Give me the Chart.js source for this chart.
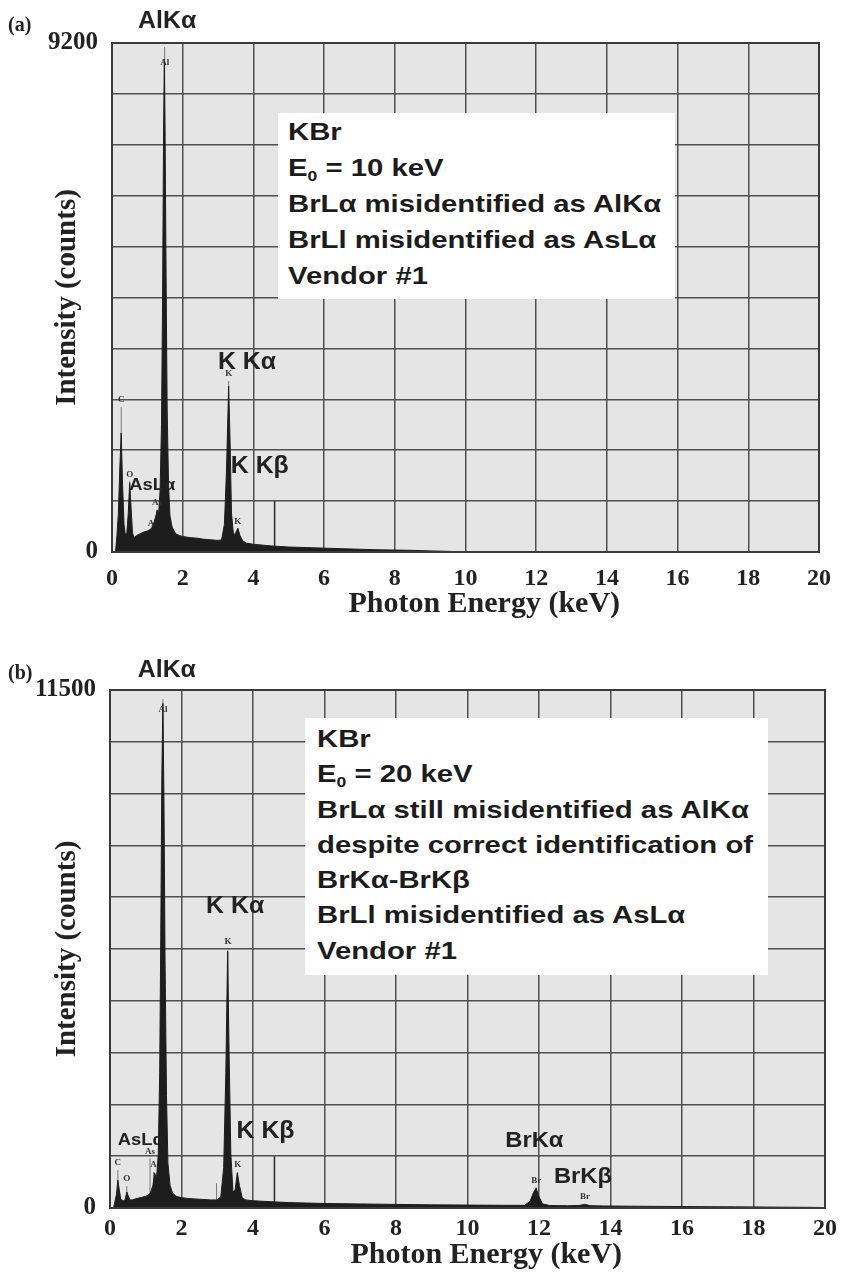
<!DOCTYPE html>
<html><head><meta charset="utf-8">
<script src="https://cdn.jsdelivr.net/npm/chart.js@4.4.1/dist/chart.umd.min.js"></script>
<style>
html,body{margin:0;padding:0;background:#fff;}
body{width:843px;height:1274px;position:relative;overflow:hidden;}
canvas{position:absolute;left:0;}
.tag{position:absolute;left:8px;font:bold 20px 'Liberation Serif',serif;color:#222;line-height:20px;}
.box{position:absolute;background:#fff;box-sizing:border-box;overflow:hidden;}
.box .in{position:absolute;left:10px;top:1px;font:bold 24px/36px 'Liberation Sans',Arial,sans-serif;color:#1c1c1c;white-space:nowrap;transform:scaleX(1.22);transform-origin:0 0;}
.box sub{font-size:60%;vertical-align:-5px;line-height:0;}
</style></head><body>
<canvas id="ca" width="843" height="625" style="top:0"></canvas>
<canvas id="cb" width="843" height="639" style="top:635px"></canvas>
<div class="tag" style="top:14px">(a)</div>
<div class="tag" style="top:662px">(b)</div>
<div class="box" style="left:278px;top:113px;width:397px;height:186px"><div class="in">KBr<br>E<sub>0</sub> = 10 keV<br>BrLα misidentified as AlKα<br>BrLl misidentified as AsLα<br>Vendor #1</div></div>
<div class="box" style="left:305px;top:718px;width:463px;height:257px"><div class="in" style="line-height:35.3px;top:3px;left:12px">KBr<br>E<sub>0</sub> = 20 keV<br>BrLα still misidentified as AlKα<br>despite correct identification of<br>BrKα-BrKβ<br>BrLl misidentified as AsLα<br>Vendor #1</div></div>
<script>
// ---------- data ----------
const xTickValues = [0, 2, 4, 6, 8, 10, 12, 14, 16, 18, 20];
const yTickLabelsA = [0, 9200];
const yTickLabelsB = [0, 11500];

// Panel (a) spectrum, E0 = 10 keV
const energyA = [0, 0.10, 0.14, 0.18, 0.22, 0.26, 0.30, 0.34, 0.38, 0.42, 0.46, 0.50, 0.54, 0.58, 0.62, 0.70, 0.80, 0.90, 1.00, 1.06, 1.12, 1.18, 1.24, 1.28, 1.32, 1.36, 1.40, 1.43, 1.46, 1.48, 1.50, 1.53, 1.56, 1.60, 1.64, 1.70, 1.80, 1.90, 2.0, 2.2, 2.4, 2.6, 2.8, 3.0, 3.10, 3.18, 3.24, 3.30, 3.34, 3.38, 3.44, 3.50, 3.56, 3.62, 3.70, 3.8, 4.0, 4.5, 5.0, 5.5, 6.0, 6.5, 7.0, 7.5, 8.0, 8.5, 9.0, 9.5, 10.0, 20];
const countsA = [0, 0, 300, 700, 1500, 2150, 1200, 500, 300, 350, 700, 1250, 800, 350, 260, 300, 330, 360, 380, 400, 430, 520, 650, 760, 700, 1100, 2300, 4500, 7700, 8900, 7700, 5000, 2600, 1200, 650, 450, 330, 300, 280, 260, 250, 230, 220, 210, 220, 500, 1500, 3000, 2000, 700, 300, 350, 430, 300, 200, 160, 140, 110, 90, 80, 70, 60, 50, 40, 35, 30, 20, 12, 0, 0];
const markerEnergyA = [0.26, 0.50, 1.10, 1.27, 1.49, 3.30, 3.56];
const markerHeightA = [2620, 1280, 380, 760, 9125, 3090, 430];
const markerLabelA = ['C', 'O', 'A', 'As', 'Al', 'K', 'K'];
const cursorEnergyA = 4.60, cursorHeightA = 920;

// Panel (b) spectrum, E0 = 20 keV
const energyB = [0, 0.10, 0.14, 0.18, 0.22, 0.26, 0.30, 0.34, 0.38, 0.42, 0.47, 0.52, 0.56, 0.62, 0.70, 0.80, 0.90, 1.00, 1.08, 1.14, 1.20, 1.25, 1.30, 1.35, 1.39, 1.42, 1.45, 1.48, 1.51, 1.54, 1.58, 1.62, 1.68, 1.75, 1.85, 2.0, 2.2, 2.4, 2.6, 2.8, 3.0, 3.10, 3.18, 3.24, 3.29, 3.33, 3.38, 3.44, 3.50, 3.56, 3.62, 3.70, 3.8, 4.0, 4.5, 5.0, 5.5, 6.0, 7.0, 8.0, 9.0, 10.0, 11.0, 11.6, 11.75, 11.85, 11.92, 12.0, 12.1, 12.3, 12.8, 13.1, 13.28, 13.45, 13.8, 14.5, 15.5, 16.5, 17.5, 18.5, 19.5, 20];
const countsB = [0, 0, 150, 300, 620, 400, 200, 170, 160, 180, 355, 250, 180, 180, 200, 220, 240, 260, 290, 350, 500, 780, 650, 1200, 3000, 6000, 9600, 11200, 9000, 5500, 2500, 1000, 500, 330, 260, 230, 210, 200, 190, 180, 180, 250, 900, 3000, 5700, 3500, 1200, 350, 400, 780, 500, 220, 180, 160, 140, 120, 110, 100, 90, 80, 70, 65, 60, 60, 150, 350, 440, 250, 90, 55, 50, 55, 80, 50, 45, 40, 35, 30, 25, 20, 15, 10];
const markerEnergyB = [0.22, 0.47, 1.12, 1.22, 1.48, 2.98, 3.30, 3.57, 11.92, 13.29];
const markerHeightB = [840, 490, 1100, 800, 11300, 550, 5750, 800, 460, 90];
const markerLabelB = ['C', 'O', 'As', 'A', 'Al', '', 'K', 'K', 'Br', 'Br'];
const cursorEnergyB = 4.60, cursorHeightB = 1150;

// ---------- rendering ----------
const SERIF = "'Liberation Serif', 'Times New Roman', serif";
const SANS = "'Liberation Sans', Arial, sans-serif";

const decor = {
  id: 'decor',
  beforeDraw(chart) {
    const {ctx, chartArea: a} = chart;
    ctx.save();
    ctx.fillStyle = '#e5e5e5';
    ctx.fillRect(a.left, a.top, a.right - a.left, a.bottom - a.top);
    ctx.restore();
  },
  afterDraw(chart) {
    const o = chart.options.plugins.decor;
    const {ctx, chartArea: a} = chart;
    const xs = chart.scales.x, ys = chart.scales.y;
    ctx.save();
    ctx.strokeStyle = '#3a3a3a';
    ctx.lineWidth = 2;
    ctx.strokeRect(a.left, a.top, a.right - a.left, a.bottom - a.top);
    ctx.font = 'bold 9px ' + SERIF;
    ctx.fillStyle = '#333';
    ctx.textAlign = 'center';
    ctx.textBaseline = 'middle';
    o.mE.forEach((e, i) => {
      if (!o.mL[i]) return;
      let y = ys.getPixelForValue(o.mH[i]) - 7;
      y = Math.max(y, a.top + 20);
      ctx.fillText(o.mL[i], xs.getPixelForValue(e), y);
    });
    ctx.fillStyle = '#222';
    o.notes.forEach(n => {
      ctx.save();
      ctx.font = 'bold ' + n.size + 'px ' + SANS;
      ctx.translate(xs.getPixelForValue(n.e), ys.getPixelForValue(n.c));
      ctx.scale(1.08, 1);
      ctx.fillText(n.text, 0, 0);
      ctx.restore();
    });
    ctx.restore();
  }
};

function pts(xs, ys) { return xs.map((x, i) => ({x: x, y: ys[i]})); }
function markerPts(es, hs) {
  const out = [];
  es.forEach((e, i) => { out.push({x: e, y: 0}, {x: e, y: hs[i]}, {x: e, y: null}); });
  return out;
}

function makeChart(id, p) {
  const yMax = p.yLabels[p.yLabels.length - 1];
  return new Chart(document.getElementById(id), {
    type: 'line',
    data: {
      datasets: [
        {data: pts(p.energy, p.counts), borderColor: '#1d1d1d', backgroundColor: '#1d1d1d', borderWidth: 1, fill: 'origin', pointRadius: 0, tension: 0, order: 0},
        {data: markerPts(p.mE, p.mH), borderColor: '#7a7a7a', borderWidth: 1, fill: false, pointRadius: 0, spanGaps: false, order: 2},
        {data: markerPts([p.cE], [p.cH]), borderColor: '#2a2a2a', borderWidth: 1.5, fill: false, pointRadius: 0, spanGaps: false, order: 1}
      ]
    },
    options: {
      responsive: false, animation: false, devicePixelRatio: 1,
      layout: {padding: {left: 0, right: p.padR, top: p.padT, bottom: 0}},
      plugins: {
        legend: {display: false}, tooltip: {enabled: false},
        decor: {mE: p.mE, mH: p.mH, mL: p.mL, notes: p.notes}
      },
      scales: {
        x: {
          type: 'linear', min: 0, max: 20,
          afterFit: s => { s.height = p.xH; },
          afterBuildTicks: s => { s.ticks = xTickValues.map(v => ({value: v})); },
          ticks: {padding: p.xTickPad, color: '#222', font: {family: SERIF, weight: 'bold', size: 24}, maxRotation: 0, autoSkip: false, callback: v => String(v)},
          grid: {color: '#505050', lineWidth: 1.5, drawTicks: false},
          border: {display: true, color: '#3a3a3a', width: 2},
          title: {display: true, text: '\u00a0\u00a0\u00a0\u00a0\u00a0Photon Energy (keV)', color: '#222', font: {family: SERIF, weight: 'bold', size: 30}, padding: {top: 0, bottom: p.xTitlePad}}
        },
        y: {
          type: 'linear', min: 0, max: yMax,
          afterFit: s => { s.width = p.yW; },
          ticks: {stepSize: yMax / 10, padding: 14, color: '#222', font: {family: SERIF, weight: 'bold', size: 25},
                  callback: v => (p.yLabels.indexOf(Math.round(v)) >= 0 ? String(Math.round(v)) : '')},
          grid: {color: '#505050', lineWidth: 1.5, drawTicks: false},
          border: {display: true, color: '#3a3a3a', width: 2},
          title: {display: true, text: 'Intensity (counts)', color: '#222', font: {family: SERIF, weight: 'bold', size: 29}, padding: {top: 50, bottom: 0}}
        }
      }
    },
    plugins: [decor]
  });
}

makeChart('ca', {
  energy: energyA, counts: countsA, mE: markerEnergyA, mH: markerHeightA, mL: markerLabelA,
  cE: cursorEnergyA, cH: cursorHeightA, yLabels: yTickLabelsA,
  padR: 13, padT: 43, xH: 73, yW: 112, xTickPad: 12, xTitlePad: 3,
  notes: [
    {text: 'AlKα', e: 1.56, c: 9577, size: 23},
    {text: 'K Kα', e: 3.82, c: 3415, size: 23},
    {text: 'K Kβ', e: 4.18, c: 1536, size: 23},
    {text: 'AsLα', e: 1.14, c: 1211, size: 17}
  ]
});

makeChart('cb', {
  energy: energyB, counts: countsB, mE: markerEnergyB, mH: markerHeightB, mL: markerLabelB,
  cE: cursorEnergyB, cH: cursorHeightB, yLabels: yTickLabelsB,
  padR: 15, padT: 55, xH: 66, yW: 110, xTickPad: 6, xTitlePad: 1,
  notes: [
    {text: 'AlKα', e: 1.59, c: 11920, size: 23},
    {text: 'K Kα', e: 3.50, c: 6700, size: 23},
    {text: 'K Kβ', e: 4.35, c: 1687, size: 23},
    {text: 'AsLα', e: 0.86, c: 1510, size: 17},
    {text: 'BrKα', e: 11.87, c: 1487, size: 22},
    {text: 'BrKβ', e: 13.23, c: 688, size: 22}
  ]
});
</script>
</body></html>
